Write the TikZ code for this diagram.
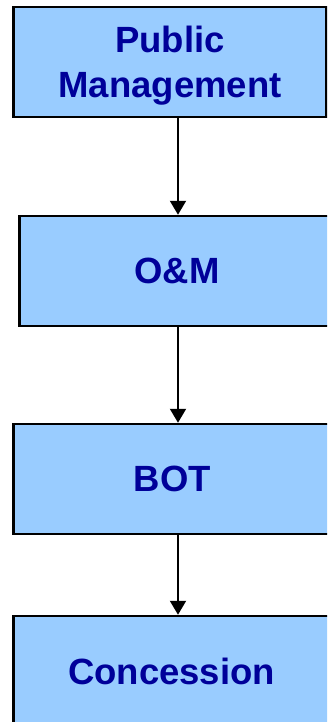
\documentclass[tikz,border=0pt]{standalone}
\usepackage{fontspec}
\setmainfont{Liberation Sans}
\usetikzlibrary{arrows.meta}
\definecolor{boxfill}{HTML}{99CCFF}
\definecolor{boxtext}{HTML}{000099}
\begin{document}
\begin{tikzpicture}[x=1pt,y=-1pt,
  stagebox/.style={draw=black, line width=2.5pt, fill=boxfill, inner sep=0pt,
    minimum height=110pt, align=center, text=boxtext,
    font=\fontsize{36.5}{45}\selectfont\bfseries},
  arr/.style={line width=2pt, -{Triangle[length=14pt,width=16pt]}}]
\useasboundingbox (0,0) rectangle (327,722);
\clip (0,0) rectangle (327,722);
\node[stagebox, minimum width=313pt, text depth=0pt] (pm) at (170,62) {Public\\Management};
\node[stagebox, minimum width=315pt] (om) at (177,271) {O\&M};
\node[stagebox, minimum width=318pt] (bot) at (172.5,479) {BOT};
\node[stagebox, minimum width=316pt] (con) at (171.5,671) {Concession};
\coordinate (ax) at (178,0);
\draw[arr] (pm.south -| ax) -- (om.north -| ax);
\draw[arr] (om.south -| ax) -- (bot.north -| ax);
\draw[arr] (bot.south -| ax) -- (con.north -| ax);
\end{tikzpicture}
\end{document}
